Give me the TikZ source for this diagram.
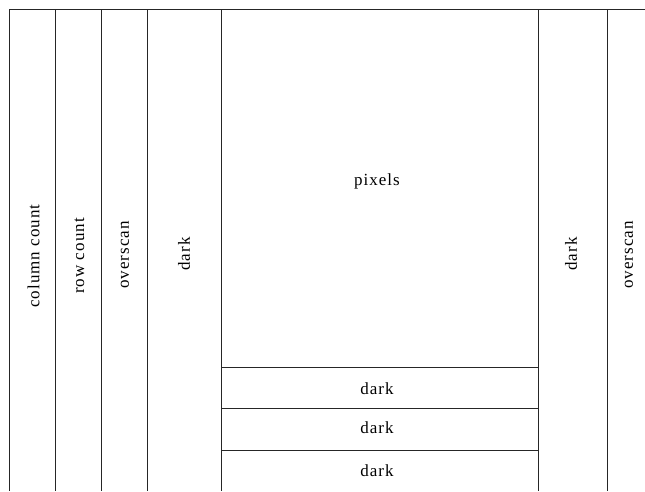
\documentclass[tikz,border=0pt]{standalone}
\usepackage{fontspec}
\setmainfont{Liberation Serif}[LetterSpace=6]
\usepackage{tikz}

\tikzset{
  lbl/.style={font=\fontsize{17}{20}\selectfont, inner sep=0pt},
  vlbl/.style={lbl, rotate=90},
  rule/.style={line width=0.9pt, draw=black!85}
}

\begin{document}
\begin{tikzpicture}[x=1pt,y=-1pt]
		\useasboundingbox (0,0) rectangle (645,491);
		% top edge and column walls
		\draw[rule] (9.5,9) -- (645,9);
		\foreach \xx in {9.5,55.5,101.5,147.5,221,538,607}
			\draw[rule] (\xx,9) -- (\xx,491);
		% rows under the pixel area
		\foreach \yy in {367.5,408.5,450.5}
			\draw[rule] (221,\yy) -- (538,\yy);
		% labels
		\node[vlbl] (colcount) at (33.5,256) {column count};
		\node[vlbl] (rowcount) at (79.5,256) {row count};
		\node[vlbl] (overscanL) at (125,255) {overscan};
		\node[vlbl] (darkL) at (184,254) {dark};
		\node[lbl] (pixels) at (377,181) {pixels};
		\node[lbl] (darkA) at (377,389) {dark};
		\node[lbl] (darkB) at (377,428) {dark};
		\node[lbl] (darkC) at (377,471) {dark};
		\node[vlbl] (darkR) at (571,254) {dark};
		\node[vlbl] (overscanR) at (629,255) {overscan};
	\end{tikzpicture}
\end{document}
